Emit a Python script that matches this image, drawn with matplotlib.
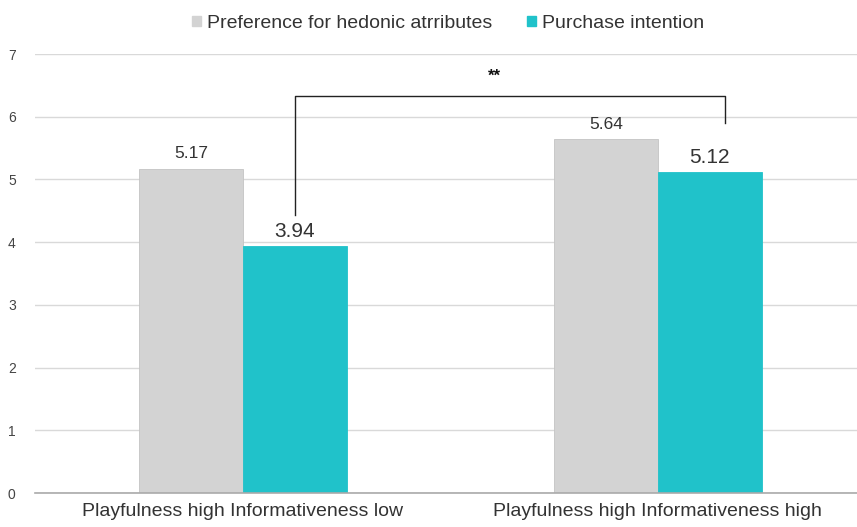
#!/usr/bin/env python3

import matplotlib
matplotlib.use('Agg')
import matplotlib.pyplot as plt
from matplotlib.patches import Patch

categories = ['Playfulness high Informativeness low',
              'Playfulness high Informativeness high']
series_names = ['Preference for hedonic atrributes', 'Purchase intention']
hedonic = [5.17, 5.64]
purchase = [3.94, 5.12]
y_ticks = [0, 1, 2, 3, 4, 5, 6, 7]
sig_label = '**'

gray = '#d3d3d3'
teal = '#20c2ca'
text_col = '#333333'


def main():
    plt.rcParams['font.family'] = ['Liberation Sans', 'DejaVu Sans']
    fig = plt.figure(figsize=(8.57, 5.27), dpi=100)
    ax = fig.add_axes([0.041, 0.0645, 0.959, 0.833])

    width = 0.25
    xs = list(range(len(categories)))
    ax.bar([x - width / 2 for x in xs], hedonic, width,
           color=gray, edgecolor='#c4c4c4', linewidth=0.6, zorder=2)
    ax.bar([x + width / 2 for x in xs], purchase, width,
           color=teal, edgecolor=teal, linewidth=0.6, zorder=2)

    for x, v in zip(xs, hedonic):
        ax.text(x - width / 2, v + 0.12, f'{v:.2f}', ha='center', va='bottom',
                fontsize=12.5, color=text_col)
    for x, v in zip(xs, purchase):
        ax.text(x + width / 2, v + 0.08, f'{v:.2f}', ha='center', va='bottom',
                fontsize=15, color=text_col)

    # significance bracket
    x_left = xs[0] + width / 2
    x_right = xs[1] + 0.161
    y_top = 6.33
    ax.plot([x_left, x_left, x_right, x_right], [4.43, y_top, y_top, 5.9],
            color='#222222', linewidth=1.0, zorder=3)
    ax.text(0.605, y_top + 0.2, sig_label,
            ha='center', va='bottom', fontsize=12, color='#111111',
            fontweight='bold')

    ax.set_xlim(-0.501, 1.48)
    ax.set_ylim(0, 7)
    ax.set_yticks(y_ticks)
    ax.set_xticks(xs)
    ax.set_xticklabels(categories, fontsize=14, color=text_col)
    ax.tick_params(axis='y', length=0, labelsize=10, labelcolor='#444444',
                   pad=14)
    ax.tick_params(axis='x', length=0, pad=7)
    ax.grid(axis='y', color='#d9d9d9', linewidth=1.0, zorder=0)
    ax.set_axisbelow(True)
    for side in ['top', 'right', 'left']:
        ax.spines[side].set_visible(False)
    ax.spines['bottom'].set_color('#aaaaaa')
    ax.spines['bottom'].set_linewidth(1.2)

    handles = [Patch(facecolor=gray, edgecolor=gray),
               Patch(facecolor=teal, edgecolor=teal)]
    fig.legend(handles, series_names, loc='upper center',
               bbox_to_anchor=(0.523, 1.005), ncol=2, frameon=False,
               fontsize=14, handlelength=0.45, handleheight=0.45,
               handletextpad=0.3, columnspacing=1.8, labelcolor=text_col)

    fig.savefig('out.png', dpi=100)


if __name__ == "__main__":
    main()
